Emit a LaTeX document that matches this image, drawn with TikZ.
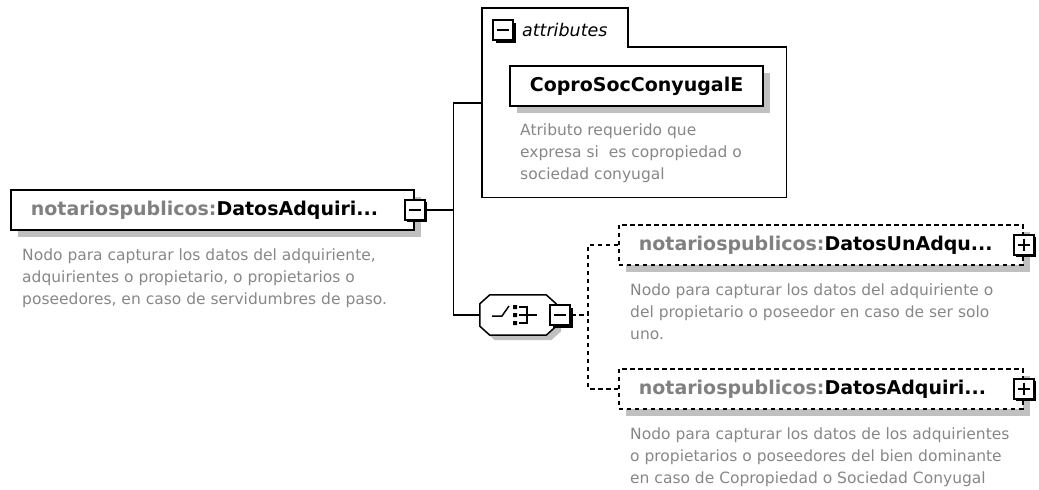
\documentclass[tikz,border=0pt]{standalone}
\usepackage{fontspec}
\setmainfont{DejaVu Sans}
\usetikzlibrary{positioning,shadows}

\definecolor{pfxgray}{RGB}{128,128,128}
\definecolor{descgray}{RGB}{135,135,135}
\definecolor{shadowgray}{RGB}{192,192,192}

\newcommand{\qname}[2]{\mbox{{\color{pfxgray}#1}#2}}

\tikzset{
  conn/.style={line width=1.7pt},
  dashline/.style={conn, dash pattern=on 4.5pt off 3.5pt},
  elem/.style={draw, fill=white, line width=1.7pt, anchor=north west,
    minimum height=40pt, inner xsep=20pt, inner ysep=0pt, align=left,
    font=\fontsize{19}{22}\selectfont\bfseries,
    drop shadow={shadow xshift=7pt, shadow yshift=-7pt, fill=shadowgray, opacity=1}},
  optelem/.style={elem, dash pattern=on 4.5pt off 3.5pt},
  desc/.style={anchor=north west, inner sep=0pt, align=left, text=descgray,
    font=\fontsize{15.5}{22}\selectfont},
  btn/.style={draw, fill=white, line width=1.7pt, minimum size=20pt, inner sep=0pt,
    drop shadow={shadow xshift=2.5pt, shadow yshift=-2.5pt, fill=black, opacity=1}},
  minusbtn/.style={btn, path picture={
    \draw[line width=1.7pt] ([xshift=4pt]path picture bounding box.west)
      -- ([xshift=-4pt]path picture bounding box.east);}},
  plusbtn/.style={btn, path picture={
    \draw[line width=1.7pt] ([xshift=4pt]path picture bounding box.west)
      -- ([xshift=-4pt]path picture bounding box.east)
      ([yshift=-4pt]path picture bounding box.north)
      -- ([yshift=4pt]path picture bounding box.south);}},
}

\begin{document}
\begin{tikzpicture}[x=1pt,y=-1pt]
  \useasboundingbox (0,0) rectangle (1039,490);

  % main element
  \node[elem, text width=363pt] (main) at (10,189) {\qname{notariospublicos:}{DatosAdquiri...}};
  \node[minusbtn] (mainbtn) at (main.east) {};
  \node[desc, below right=18pt and 12pt of main.south west] (maindesc)
    {Nodo para capturar los datos del adquiriente,\\adquirientes o propietario, o propietarios o\\poseedores, en caso de servidumbres de paso.};

  % attributes
  \node[minimum width=304pt, minimum height=189pt, anchor=north west, inner sep=0pt] (attr) at (482,8) {};
  \draw[conn] (attr.south west) -- (attr.north west) -- ++(146,0) -- ++(0,39) -| (attr.south east) -- cycle;
  \node[minusbtn] (attrbtn) at (503,30) {};
  \node[right=8pt of attrbtn, inner sep=0pt, font=\fontsize{17.5}{20}\selectfont\itshape] (attrlabel) {attributes};
  \node[elem, text width=213pt, align=center] (copro) at (509,65) {CoproSocConyugalE};
  \node[desc, below right=17pt and 11pt of copro.south west] (coprodesc)
    {Atributo requerido que\\expresa si\ \ es copropiedad o\\sociedad conyugal};

  % choice
  \node[minimum width=76pt, minimum height=40pt, inner sep=0pt] (choice) at (518,315) {};
  \draw[line width=1.5pt, fill=white, drop shadow={shadow xshift=5pt, shadow yshift=-5pt, fill=shadowgray, opacity=1}]
    ([xshift=10pt]choice.north west) -- ([xshift=-10pt]choice.north east)
    -- ([yshift=-9pt]choice.north east) -- ([yshift=9pt]choice.south east)
    -- ([xshift=-10pt]choice.south east) -- ([xshift=10pt]choice.south west)
    -- ([yshift=9pt]choice.south west) -- ([yshift=-9pt]choice.north west) -- cycle;
  \begin{scope}[shift={(choice.center)}, line width=1.5pt]
    \draw (-26,1) -- (-16,1) -- (-9,-9);
    \fill (-5,-10) rectangle (-1,-6) (-5,-2) rectangle (-1,2) (-5,6) rectangle (-1,10);
    \draw (1,-8) -- (9,-8) -- (9,8) -- (1,8) (1,0) -- (19,0);
  \end{scope}
  \node[minusbtn] (choicebtn) at ([xshift=4pt]choice.east) {};

  % children
  \node[optelem, text width=364pt] (child1) at (618,224) {\qname{notariospublicos:}{DatosUnAdqu...}};
  \node[plusbtn] (child1btn) at (child1.east) {};
  \node[desc, below right=18pt and 12pt of child1.south west] (child1desc)
    {Nodo para capturar los datos del adquiriente o\\del propietario o poseedor en caso de ser solo\\uno.};
  \node[optelem, text width=364pt] (child2) at (618,368) {\qname{notariospublicos:}{DatosAdquiri...}};
  \node[plusbtn] (child2btn) at (child2.east) {};
  \node[desc, below right=18pt and 12pt of child2.south west] (child2desc)
    {Nodo para capturar los datos de los adquirientes\\o propietarios o poseedores del bien dominante\\en caso de Copropiedad o Sociedad Conyugal};

  % connectors
  \coordinate (fork) at ([xshift=28pt]mainbtn.east);
  \draw[conn] (mainbtn.east) -- (fork);
  \draw[conn] (attr.west) -| (fork) |- (choice.west);
  \coordinate (dfork) at ([xshift=17pt]choicebtn.east);
  \draw[dashline] (choicebtn.east) -- (dfork);
  \draw[dashline] (child1.west) -| (dfork) |- (child2.west);
\end{tikzpicture}
\end{document}
